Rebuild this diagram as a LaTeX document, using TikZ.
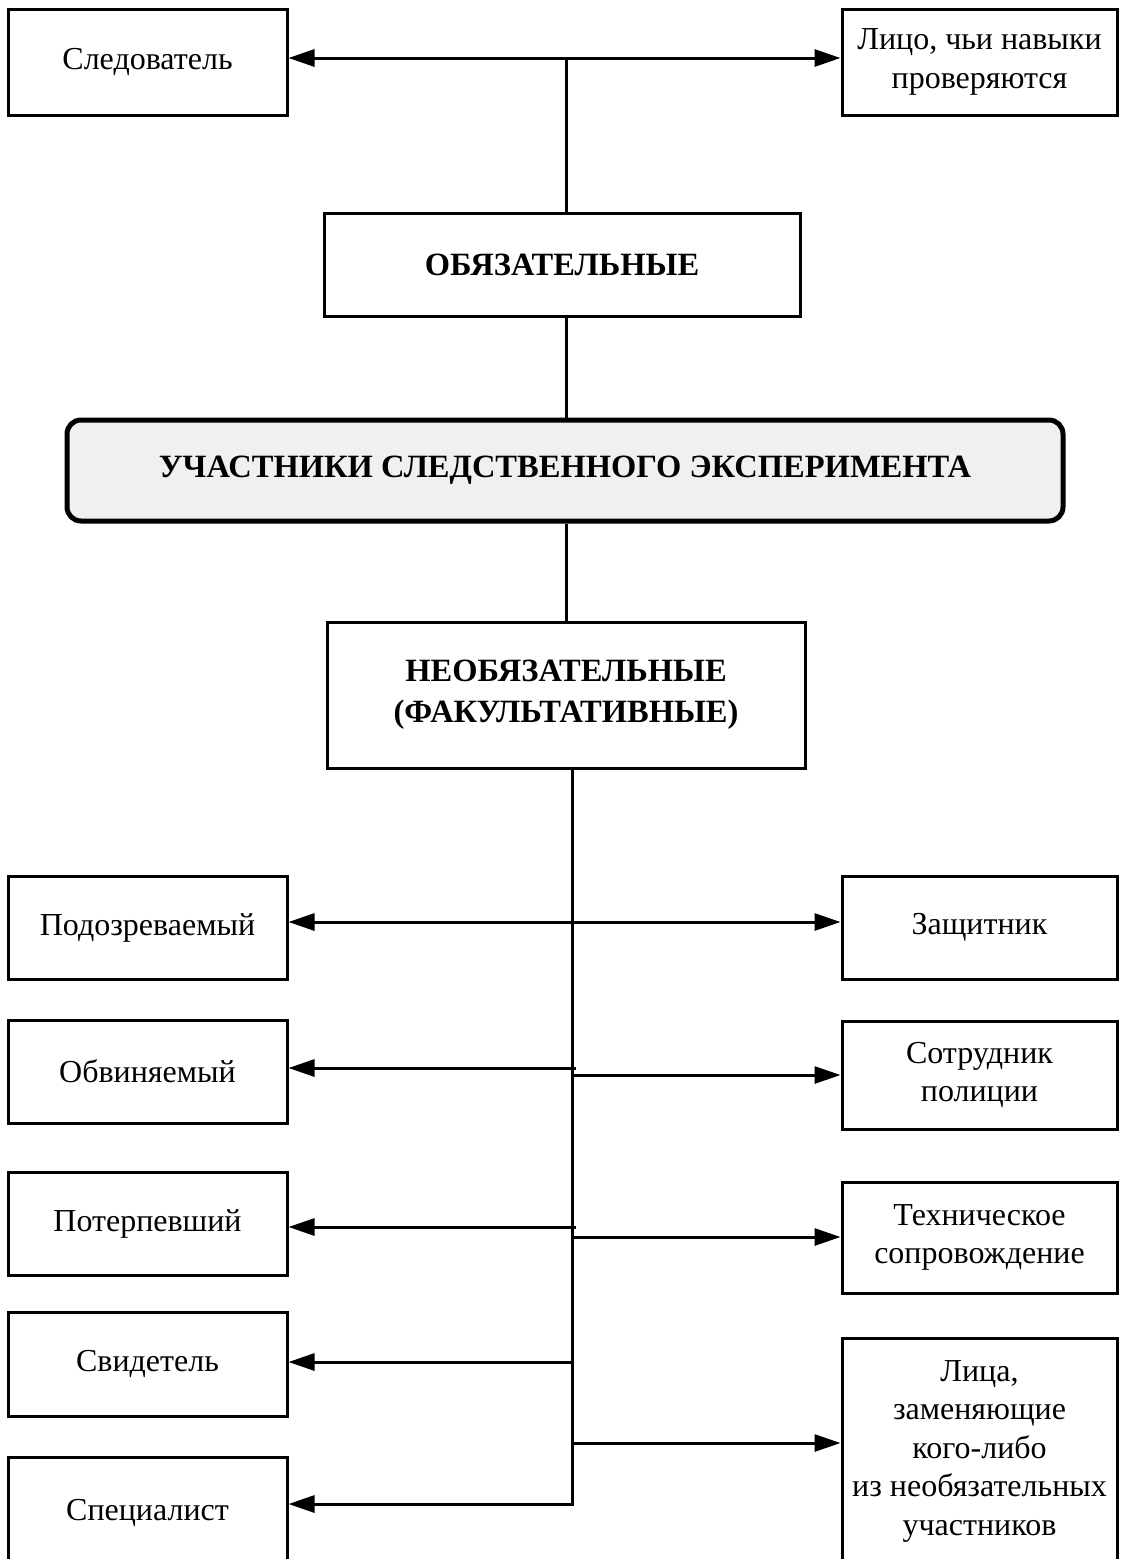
\documentclass[tikz,border=0pt]{standalone}
\usepackage{fontspec}
\setmainfont{Liberation Serif}
\usetikzlibrary{arrows.meta}
\definecolor{lightfill}{RGB}{240,240,240}
\begin{document}
\begin{tikzpicture}[x=1pt,y=-1pt,
    box/.style={draw,line width=3pt,inner sep=0pt,align=center,font=\fontsize{32}{38.5}\selectfont},
    headbox/.style={box,font=\fontsize{32.5}{41}\selectfont\bfseries},
    mainbox/.style={headbox,fill=lightfill,line width=5pt,rounded corners=14pt},
    link/.style={line width=3pt},
    arr/.style={link,-{Triangle[length=26pt,width=17pt]}},
    arrs/.style={link,{Triangle[length=26pt,width=17pt]}-{Triangle[length=26pt,width=17pt]}}]
  \useasboundingbox (0,0) rectangle (1121,1559);
  % upper part
  \node[box,minimum width=279pt,minimum height=106pt] (sled) at (147.5,62) {Следователь};
  \node[box,minimum width=275pt,minimum height=106pt] (lico) at (979.5,62) {Лицо, чьи навыки\\проверяются};
  \node[headbox,minimum width=476pt,minimum height=103pt] (obyaz) at (562,264.5) {ОБЯЗАТЕЛЬНЫЕ};
  \node[mainbox,minimum width=996pt,minimum height=101pt] (uchast) at (565,470.5) {УЧАСТНИКИ СЛЕДСТВЕННОГО ЭКСПЕРИМЕНТА};
  \node[headbox,minimum width=478pt,minimum height=146pt] (neob) at (566,695) {НЕОБЯЗАТЕЛЬНЫЕ\\(ФАКУЛЬТАТИВНЫЕ)};
  \coordinate (j0) at (566,58);
  \draw[arrs] (sled.east |- j0) -- (lico.west |- j0);
  \draw[link] (j0) -- (obyaz.north -| j0);
  \draw[link] (obyaz.south -| j0) -- (uchast.north -| j0);
  \draw[link] (uchast.south -| j0) -- (neob.north -| j0);
  % left column
  \node[box,minimum width=279pt,minimum height=103pt] (podoz) at (147.5,927.5) {Подозреваемый};
  \node[box,minimum width=279pt,minimum height=103pt] (obv) at (147.5,1071.5) {Обвиняемый};
  \node[box,minimum width=279pt,minimum height=103pt] (poter) at (147.5,1223.5) {Потерпевший};
  \node[box,minimum width=279pt,minimum height=104pt] (svid) at (147.5,1364) {Свидетель};
  \node[box,minimum width=279pt,minimum height=112pt] (spec) at (147.5,1513) {Специалист};
  % right column
  \node[box,minimum width=275pt,minimum height=103pt] (zasch) at (979.5,927.5) {Защитник};
  \node[box,minimum width=275pt,minimum height=108pt] (sotr) at (979.5,1075) {Сотрудник\\полиции};
  \node[box,minimum width=275pt,minimum height=111pt] (tekh) at (979.5,1237.5) {Техническое\\сопровождение};
  \node[box,minimum width=275pt,minimum height=226pt] (lica) at (979.5,1451) {Лица,\\заменяющие\\кого-либо\\из необязательных\\участников};
  % trunk
  \coordinate (t0) at (572,766);
  \coordinate (t1) at (572,922);
  \coordinate (t2) at (576,1068);
  \coordinate (t3) at (572,1075);
  \coordinate (t4) at (576,1227);
  \coordinate (t5) at (572,1237);
  \coordinate (t6) at (572,1362);
  \coordinate (t7) at (572,1443);
  \coordinate (t8) at (572,1504);
  \draw[arr] (neob.south -| t0) -- (t8) -- (spec.east |- t8);
  \draw[arrs] (podoz.east |- t1) -- (zasch.west |- t1);
  \draw[arr] (t2) -- (obv.east |- t2);
  \draw[arr] (t3) -- (sotr.west |- t3);
  \draw[arr] (t4) -- (poter.east |- t4);
  \draw[arr] (t5) -- (tekh.west |- t5);
  \draw[arr] (t6) -- (svid.east |- t6);
  \draw[arr] (t7) -- (lica.west |- t7);
\end{tikzpicture}
\end{document}
